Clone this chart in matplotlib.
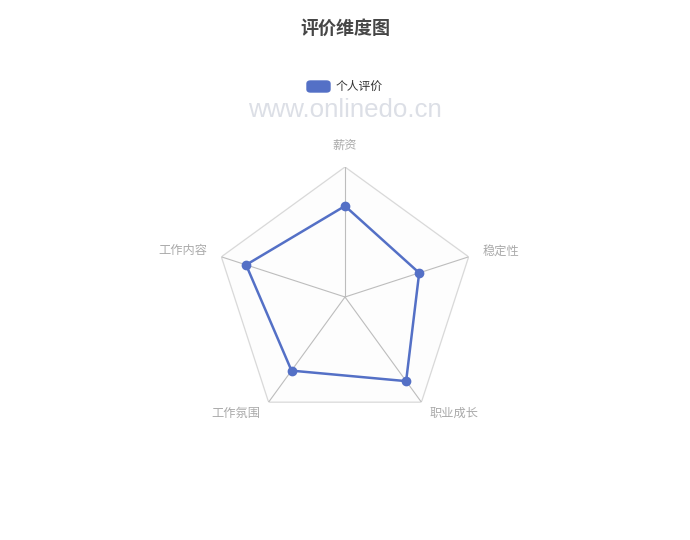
import numpy as np
import matplotlib
matplotlib.use("Agg")
import matplotlib.pyplot as plt
from matplotlib.patches import FancyBboxPatch

plt.rcParams['font.family'] = ['Noto Sans CJK SC', 'DejaVu Sans']

# data
indicators = ['薪资', '稳定性', '职业成长', '工作氛围', '工作内容']
scores = [70, 60, 80, 70, 80]
max_score = 100
series_name = '个人评价'

color = '#5470c6'

fig = plt.figure(figsize=(6.9, 5.4), dpi=100)
fig.patch.set_facecolor('white')

# radar in a polar axes, pentagon frame drawn by hand
ax = fig.add_axes([215 / 690, (540 - 297 - 130) / 540, 260 / 690, 260 / 540], projection='polar')
ax.set_theta_offset(np.pi / 2)
ax.set_theta_direction(-1)
ax.set_ylim(0, max_score)
ax.grid(False)
ax.spines['polar'].set_visible(False)
ax.set_xticks([])
ax.set_yticks([])
ax.patch.set_alpha(0)

n = len(indicators)
angles = np.linspace(0, 2 * np.pi, n, endpoint=False)
ring_a = np.append(angles, angles[0])
ring_r = [max_score] * (n + 1)

ax.fill(ring_a, ring_r, color='#fdfdfd', zorder=1)
ax.plot(ring_a, ring_r, color='#d9d9d9', lw=0.9, zorder=2)
for a in angles:
    ax.plot([a, a], [0, max_score], color='#bdbdbd', lw=0.8, zorder=2)

vals = scores + scores[:1]
ax.plot(ring_a, vals, color=color, lw=1.8, zorder=4)
ax.plot(angles, scores, 'o', color=color, ms=6, zorder=5)

# axis names, offset from the outer vertex
for a, name in zip(angles, indicators):
    sx = np.sin(a)
    sy = np.cos(a)
    if abs(sx) < 0.1:
        ha, off = 'center', (0, 22)
    elif sy > 0:
        ha, off = ('left' if sx > 0 else 'right'), (14 * np.sign(sx), 6)
    else:
        ha, off = ('left' if sx > 0 else 'right'), (8 * np.sign(sx), -11)
    ax.annotate(name, xy=(a, max_score), xytext=off, textcoords='offset pixels',
                ha=ha, va='center', fontsize=8.8, color='#aaaaaa', zorder=6)

# title / legend / watermark
fig.text(0.5, 1 - 28 / 540, '评价维度图', ha='center', va='center',
         fontsize=13, fontweight='bold', color='#464646')

leg = FancyBboxPatch((307 / 690, 1 - 92 / 540), 23 / 690, 11 / 540,
                     boxstyle='round,pad=0,rounding_size=0.005',
                     transform=fig.transFigure, color=color)
fig.patches.append(leg)
fig.text(336 / 690, 1 - 86 / 540, series_name, ha='left', va='center',
         fontsize=8.5, color='#333333')

fig.text(0.5, 1 - 110 / 540, 'www.onlinedo.cn', ha='center', va='center',
         fontsize=18.6, color='#dcdfe6', family=['Liberation Sans', 'DejaVu Sans'])

fig.savefig('out.png', dpi=100)
